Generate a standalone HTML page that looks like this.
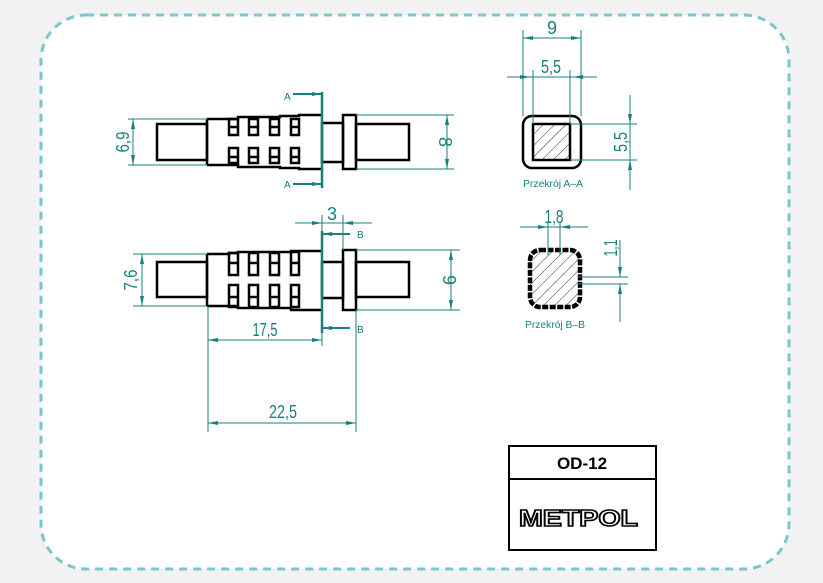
<!DOCTYPE html>
<html><head><meta charset="utf-8"><style>
html,body{margin:0;padding:0;background:#f2f2f2;}
svg{display:block}
</style></head><body>
<svg width="823" height="583" viewBox="0 0 823 583" xmlns="http://www.w3.org/2000/svg" font-family="Liberation Sans, sans-serif">
<defs>
<pattern id="h" patternUnits="userSpaceOnUse" width="8" height="8" patternTransform="rotate(45)">
<line x1="0" y1="0" x2="0" y2="8" stroke="#000" stroke-width="0.8"/>
</pattern>
<marker id="ar" viewBox="0 0 10 4" refX="10" refY="2" markerWidth="10" markerHeight="4" orient="auto-start-reverse" markerUnits="userSpaceOnUse">
<path d="M0,0 L10,2 L0,4 Z" fill="#17807d"/>
</marker>
</defs>
<rect x="41" y="15" width="748" height="554" rx="45" fill="#fff" stroke="#7cc5cd" stroke-width="3" stroke-dasharray="8 6"/>

<!-- TOP DRAWING -->
<g fill="none" stroke="#000" stroke-width="2.5">
<rect x="157" y="124" width="50" height="36"/>
<polyline points="207,119 238,119 238,117 280,117 280,116 299,116 299,115 322,115"/>
<polyline points="207,165 238,165 238,167 280,167 280,168 299,168 299,169 322,169"/>
<line x1="207" y1="119" x2="207" y2="165"/>
<rect x="322" y="123" width="21" height="39"/>
<rect x="343" y="115" width="13" height="54"/>
<rect x="356" y="124" width="53" height="36"/>
<rect x="229" y="119" width="9" height="16"/><line x1="229" y1="127" x2="238" y2="127"/>
<rect x="249" y="119" width="9" height="16"/><line x1="249" y1="127" x2="258" y2="127"/>
<rect x="270" y="119" width="9" height="16"/><line x1="270" y1="127" x2="279" y2="127"/>
<rect x="291" y="119" width="8" height="16"/><line x1="291" y1="127" x2="299" y2="127"/>
<rect x="229" y="148" width="9" height="15"/><line x1="229" y1="157" x2="238" y2="157"/>
<rect x="249" y="148" width="9" height="15"/><line x1="249" y1="157" x2="258" y2="157"/>
<rect x="270" y="148" width="9" height="15"/><line x1="270" y1="157" x2="279" y2="157"/>
<rect x="291" y="148" width="8" height="15"/><line x1="291" y1="157" x2="299" y2="157"/>
</g>
<g stroke="#17807d" stroke-width="1" fill="none">
<line x1="322" y1="92" x2="322" y2="188" stroke-width="2.5"/>
<line x1="293" y1="94" x2="322" y2="94" stroke-width="2" marker-end="url(#ar)"/>
<line x1="293" y1="184" x2="322" y2="184" stroke-width="2" marker-end="url(#ar)"/>
<line x1="128" y1="119" x2="207" y2="119"/><line x1="128" y1="165" x2="207" y2="165"/>
<line x1="133" y1="119" x2="133" y2="165" marker-start="url(#ar)" marker-end="url(#ar)"/>
<line x1="356" y1="115" x2="454" y2="115"/><line x1="356" y1="169" x2="454" y2="169"/>
<line x1="447" y1="115" x2="447" y2="169" marker-start="url(#ar)" marker-end="url(#ar)"/>
</g>
<g fill="#17807d" font-size="10">
<text x="284" y="100">A</text><text x="284" y="188">A</text>
</g>
<g fill="#17807d" font-size="18">
<text transform="translate(129,142) rotate(-90)" text-anchor="middle" textLength="21" lengthAdjust="spacingAndGlyphs">6,9</text>
<text transform="translate(439,142) rotate(90)" text-anchor="middle" textLength="10" lengthAdjust="spacingAndGlyphs">8</text>
</g>

<!-- BOTTOM DRAWING -->
<g fill="none" stroke="#000" stroke-width="2.5">
<rect x="157" y="262" width="50" height="35"/>
<polyline points="207,254 229,254 229,253 238,253 238,252 291,252 291,251 322,251"/>
<polyline points="207,306 229,306 229,307 238,307 238,308 291,308 291,310 322,310"/>
<line x1="207" y1="254" x2="207" y2="306"/>
<rect x="322" y="262" width="21" height="36"/>
<rect x="343" y="250" width="13" height="60"/>
<rect x="356" y="262" width="53" height="35"/>
<rect x="229" y="253" width="9" height="22"/><line x1="229" y1="263" x2="238" y2="263"/>
<rect x="249" y="253" width="9" height="22"/><line x1="249" y1="263" x2="258" y2="263"/>
<rect x="270" y="253" width="9" height="22"/><line x1="270" y1="263" x2="279" y2="263"/>
<rect x="291" y="252" width="8" height="23"/><line x1="291" y1="263" x2="299" y2="263"/>
<rect x="229" y="285" width="9" height="21"/><line x1="229" y1="297" x2="238" y2="297"/>
<rect x="249" y="285" width="9" height="22"/><line x1="249" y1="297" x2="258" y2="297"/>
<rect x="270" y="285" width="9" height="22"/><line x1="270" y1="297" x2="279" y2="297"/>
<rect x="291" y="285" width="8" height="22"/><line x1="291" y1="297" x2="299" y2="297"/>
</g>
<g stroke="#17807d" stroke-width="1" fill="none">
<line x1="322" y1="231" x2="322" y2="333" stroke-width="2.5"/>
<line x1="350" y1="234" x2="322" y2="234" stroke-width="2" marker-end="url(#ar)"/>
<line x1="350" y1="328" x2="322" y2="328" stroke-width="2" marker-end="url(#ar)"/>
<line x1="322" y1="215" x2="322" y2="232"/><line x1="343" y1="215" x2="343" y2="250"/>
<line x1="295" y1="223" x2="322" y2="223" marker-end="url(#ar)"/>
<line x1="372" y1="223" x2="343" y2="223" marker-end="url(#ar)"/>
<line x1="322" y1="223" x2="343" y2="223"/>
<line x1="133" y1="254" x2="207" y2="254"/><line x1="133" y1="306" x2="207" y2="306"/>
<line x1="142" y1="254" x2="142" y2="306" marker-start="url(#ar)" marker-end="url(#ar)"/>
<line x1="356" y1="250" x2="460" y2="250"/><line x1="356" y1="310" x2="460" y2="310"/>
<line x1="451" y1="250" x2="451" y2="310" marker-start="url(#ar)" marker-end="url(#ar)"/>
<line x1="208" y1="306" x2="208" y2="432"/>
<line x1="322" y1="333" x2="322" y2="346"/>
<line x1="356" y1="310" x2="356" y2="432"/>
<line x1="208" y1="340" x2="322" y2="340" marker-start="url(#ar)" marker-end="url(#ar)"/>
<line x1="208" y1="423" x2="356" y2="423" marker-start="url(#ar)" marker-end="url(#ar)"/>
</g>
<g fill="#17807d" font-size="10"><text x="357" y="238">B</text><text x="357" y="333">B</text></g>
<g fill="#17807d" font-size="18">
<text x="332" y="220" text-anchor="middle" textLength="10" lengthAdjust="spacingAndGlyphs">3</text>
<text transform="translate(137,280) rotate(-90)" text-anchor="middle" textLength="21" lengthAdjust="spacingAndGlyphs">7,6</text>
<text transform="translate(443,280) rotate(90)" text-anchor="middle" textLength="10" lengthAdjust="spacingAndGlyphs">9</text>
<text x="265" y="336" text-anchor="middle" textLength="25" lengthAdjust="spacingAndGlyphs">17,5</text>
<text x="283" y="418" text-anchor="middle" textLength="28" lengthAdjust="spacingAndGlyphs">22,5</text>
</g>

<!-- SECTION A-A -->
<rect x="523" y="116" width="58" height="52" rx="9" fill="none" stroke="#000" stroke-width="2.5"/>
<rect x="533" y="124" width="37" height="36" fill="url(#h)" stroke="#000" stroke-width="2.5"/>
<g stroke="#17807d" stroke-width="1" fill="none">
<line x1="523" y1="30" x2="523" y2="116"/><line x1="581" y1="30" x2="581" y2="116"/>
<line x1="523" y1="38" x2="581" y2="38" marker-start="url(#ar)" marker-end="url(#ar)"/>
<line x1="533" y1="70" x2="533" y2="124"/><line x1="570" y1="70" x2="570" y2="124"/>
<line x1="507" y1="77" x2="597" y2="77"/>
<line x1="507" y1="77" x2="530" y2="77" marker-end="url(#ar)"/>
<line x1="597" y1="77" x2="573" y2="77" marker-end="url(#ar)"/>
<line x1="570" y1="124" x2="637" y2="124"/><line x1="570" y1="160" x2="637" y2="160"/>
<line x1="630" y1="95" x2="630" y2="124" marker-end="url(#ar)"/>
<line x1="630" y1="190" x2="630" y2="160" marker-end="url(#ar)"/>
<line x1="630" y1="124" x2="630" y2="160"/>
</g>
<g fill="#17807d">
<text x="552" y="34" font-size="18" text-anchor="middle" textLength="10" lengthAdjust="spacingAndGlyphs">9</text>
<text x="551" y="73" font-size="18" text-anchor="middle" textLength="20" lengthAdjust="spacingAndGlyphs">5,5</text>
<text transform="translate(627,142) rotate(-90)" font-size="18" text-anchor="middle" textLength="20" lengthAdjust="spacingAndGlyphs">5,5</text>
<text x="553" y="187" font-size="10" text-anchor="middle" textLength="60" lengthAdjust="spacingAndGlyphs">Przekrój A–A</text>
</g>

<!-- SECTION B-B -->
<rect x="530" y="250" width="50" height="57" rx="10" fill="url(#h)" stroke="#000" stroke-width="4.5" stroke-dasharray="6 1.5"/>
<g stroke="#17807d" stroke-width="1" fill="none">
<line x1="548" y1="222" x2="548" y2="255"/><line x1="560" y1="222" x2="560" y2="255"/>
<line x1="520" y1="227" x2="588" y2="227"/>
<line x1="534" y1="227" x2="548" y2="227" marker-end="url(#ar)"/>
<line x1="574" y1="227" x2="560" y2="227" marker-end="url(#ar)"/>
<line x1="578" y1="277" x2="628" y2="277"/><line x1="578" y1="284" x2="628" y2="284"/>
<line x1="620" y1="240" x2="620" y2="277" marker-end="url(#ar)"/>
<line x1="620" y1="322" x2="620" y2="284" marker-end="url(#ar)"/>
</g>
<g fill="#17807d">
<text x="554" y="223" font-size="18" text-anchor="middle" textLength="19" lengthAdjust="spacingAndGlyphs">1,8</text>
<text transform="translate(617,248) rotate(-90)" font-size="18" text-anchor="middle" textLength="17" lengthAdjust="spacingAndGlyphs">1,1</text>
<text x="555" y="328" font-size="10" text-anchor="middle" textLength="60" lengthAdjust="spacingAndGlyphs">Przekrój B–B</text>
</g>

<!-- TITLE BLOCK -->
<rect x="509" y="446" width="147" height="104" fill="#fff" stroke="#000" stroke-width="2"/>
<line x1="509" y1="479" x2="656" y2="479" stroke="#000" stroke-width="2"/>
<text x="582" y="469" font-size="17" font-weight="bold" text-anchor="middle">OD-12</text>
<text x="519" y="526" font-size="23" font-weight="bold" fill="#fff" stroke="#000" stroke-width="1.6" textLength="119" lengthAdjust="spacingAndGlyphs">METPOL</text>
</svg>
</body></html>
